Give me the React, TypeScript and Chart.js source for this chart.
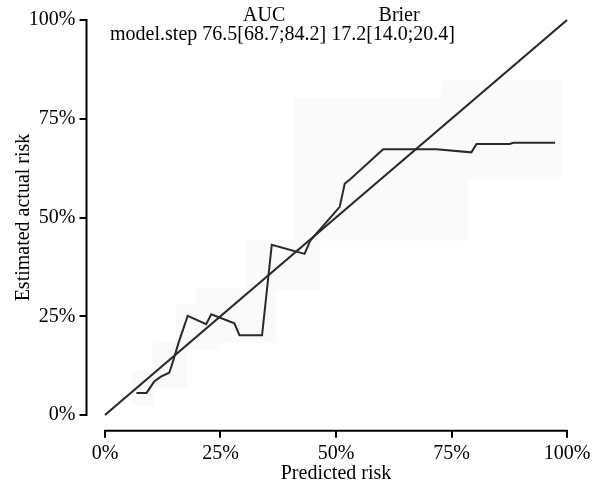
import React, { useEffect, useRef } from "react";
import { Chart, registerables } from "chart.js";

Chart.register(...registerables);

// Calibration curve (predicted risk %, estimated actual risk %)
const calX = [6.8, 9.0, 10.6, 12.1, 13.9, 14.6, 15.9, 17.9, 21.9, 23.0, 28.0, 29.1, 34.0, 36.1, 43.2, 44.4, 50.8, 51.9, 52.9, 60.2, 71.7, 79.3, 80.4, 87.6, 88.4, 97.4];
const calY = [5.6, 5.6, 8.4, 9.7, 10.7, 13.1, 18.2, 25.1, 23.0, 25.5, 23.2, 20.2, 20.2, 43.1, 40.8, 44.1, 52.7, 58.6, 59.5, 67.3, 67.3, 66.5, 68.6, 68.6, 68.9, 68.9];

// Diagonal reference line
const diagX = [0, 100];
const diagY = [0, 100];

// Confidence boxes per bin
const boxXLow = [5.9, 10.2, 15.4, 19.7, 30.6, 41.0, 72.7];
const boxXHigh = [10.6, 17.8, 24.7, 37.1, 46.6, 78.5, 98.7];
const boxYLow = [2.5, 6.8, 16.5, 18.2, 31.6, 44.1, 59.7];
const boxYHigh = [11.1, 18.2, 28.1, 32.2, 44.3, 80.0, 84.6];

const tickValues = [0, 25, 50, 75, 100];

const legendHeader = ["AUC", "Brier"];
const legendModel = "model.step";
const legendValues = ["76.5[68.7;84.2]", "17.2[14.0;20.4]"];

const FONT = "'Liberation Serif', 'Times New Roman', serif";
const FS = 20;

export default function App() {
  const ref = useRef<HTMLCanvasElement | null>(null);

  useEffect(() => {
    const canvas = ref.current;
    if (!canvas) return;

    const overlay = {
      id: "overlay",
      beforeDatasetsDraw(chart: any) {
        const { ctx } = chart;
        const xs = chart.scales.x;
        const ys = chart.scales.y;
        ctx.save();
        ctx.fillStyle = "#fafafa";
        for (let i = 0; i < boxXLow.length; i++) {
          const x0 = xs.getPixelForValue(boxXLow[i]);
          const x1 = xs.getPixelForValue(boxXHigh[i]);
          const y0 = ys.getPixelForValue(boxYHigh[i]);
          const y1 = ys.getPixelForValue(boxYLow[i]);
          ctx.fillRect(x0, y0, x1 - x0, y1 - y0);
        }
        ctx.restore();
      },
      afterDraw(chart: any) {
        const { ctx, chartArea } = chart;
        const xs = chart.scales.x;
        const ys = chart.scales.y;
        ctx.save();
        ctx.strokeStyle = "#000";
        ctx.lineWidth = 2;
        ctx.lineCap = "butt";
        // x axis line
        ctx.beginPath();
        ctx.moveTo(xs.getPixelForValue(tickValues[0]) - 1, chartArea.bottom);
        ctx.lineTo(xs.getPixelForValue(tickValues[tickValues.length - 1]) + 1, chartArea.bottom);
        ctx.stroke();
        // y axis line
        ctx.beginPath();
        ctx.moveTo(chartArea.left, ys.getPixelForValue(tickValues[0]) + 1);
        ctx.lineTo(chartArea.left, ys.getPixelForValue(tickValues[tickValues.length - 1]) - 1);
        ctx.stroke();

        // legend text
        ctx.fillStyle = "#000";
        ctx.font = `${FS}px ${FONT}`;
        ctx.textBaseline = "middle";
        const startX = xs.getPixelForValue(1.1);
        const row1 = ys.getPixelForValue(101.2);
        const row2 = ys.getPixelForValue(96.2);
        const sp = ctx.measureText(" ").width;
        const wModel = ctx.measureText(legendModel).width;
        const w0 = ctx.measureText(legendValues[0]).width;
        const w1 = ctx.measureText(legendValues[1]).width;
        ctx.textAlign = "left";
        ctx.fillText(legendModel, startX, row2);
        const c0 = startX + wModel + sp;
        ctx.fillText(legendValues[0], c0, row2);
        const c1 = c0 + w0 + sp;
        ctx.fillText(legendValues[1], c1, row2);
        ctx.textAlign = "center";
        ctx.fillText(legendHeader[0], c0 + w0 / 2, row1);
        ctx.fillText(legendHeader[1], c1 + w1 / 2 + 6, row1);
        ctx.restore();
      },
    };

    const axisCommon = (title: string, titlePad: number) => ({
      type: "linear" as const,
      min: -4,
      max: 104,
      afterBuildTicks(scale: any) {
        scale.ticks = tickValues.map((v) => ({ value: v }));
      },
      ticks: {
        callback: (v: any) => `${v}%`,
        color: "#000",
        font: { family: FONT, size: FS },
        padding: 4,
        autoSkip: false,
        maxRotation: 0,
      },
      grid: {
        display: true,
        drawOnChartArea: false,
        drawTicks: true,
        tickLength: 7,
        color: "#000",
        lineWidth: 2,
      },
      border: { display: false },
      title: {
        display: true,
        text: title,
        color: "#000",
        font: { family: FONT, size: FS },
        padding: { top: titlePad, bottom: 0 },
      },
    });

    const chart = new Chart(canvas, {
      type: "scatter",
      data: {
        datasets: [
          {
            data: diagX.map((x, i) => ({ x, y: diagY[i] })),
            showLine: true,
            borderColor: "#2a2a2a",
            borderWidth: 2.2,
            pointRadius: 0,
          },
          {
            data: calX.map((x, i) => ({ x, y: calY[i] })),
            showLine: true,
            borderColor: "#2a2a2a",
            borderWidth: 2,
            pointRadius: 0,
          },
        ],
      },
      options: {
        animation: false,
        responsive: false,
        maintainAspectRatio: false,
        events: [],
        layout: { padding: { top: 4.2, right: 18.5, left: 0, bottom: 0 } },
        plugins: {
          legend: { display: false },
          tooltip: { enabled: false },
          title: { display: false },
        },
        scales: {
          x: {
            ...axisCommon("Predicted risk", 3),
            position: "bottom",
            afterFit(scale: any) {
              scale.height = 55.2;
              scale.paddingLeft = 0;
              scale.paddingRight = 0;
            },
          },
          y: {
            ...axisCommon("Estimated actual risk", 12),
            position: "left",
            afterFit(scale: any) {
              scale.width = 86.5;
              scale.paddingTop = 0;
              scale.paddingBottom = 0;
            },
          },
        },
      } as any,
      plugins: [overlay],
    });

    return () => chart.destroy();
  }, []);

  return (
    <div style={{ position: "fixed", left: 0, top: 0, width: 604, height: 486, background: "#fff" }}>
      <canvas ref={ref} width={604} height={486} style={{ width: 604, height: 486 }} />
    </div>
  );
}
